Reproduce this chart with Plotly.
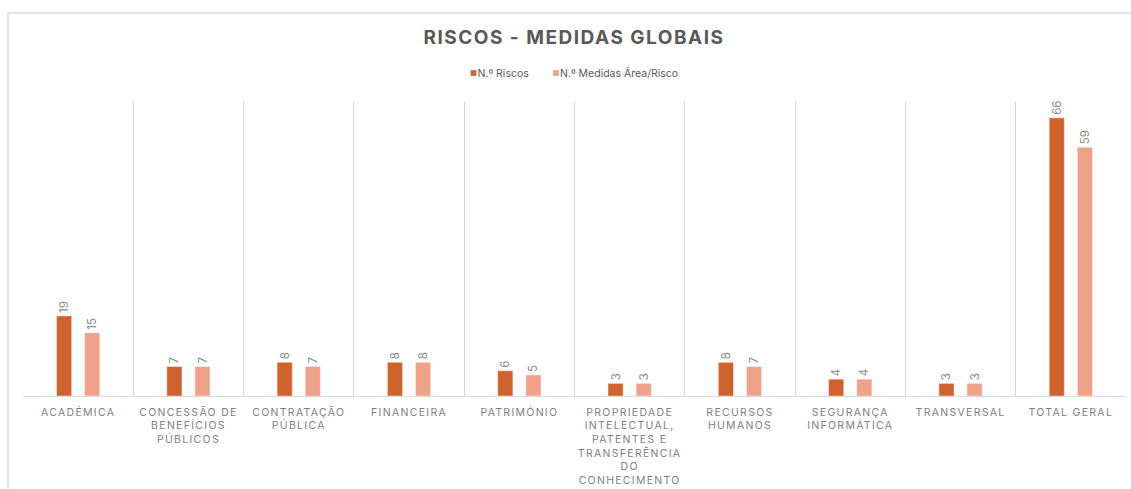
import plotly.graph_objects as go

categories = [
    "ACADÉMICA",
    "CONCESSÃO DE<br>BENEFÍCIOS<br>PÚBLICOS",
    "CONTRATAÇÃO<br>PÚBLICA",
    "FINANCEIRA",
    "PATRIMÓNIO",
    "PROPRIEDADE<br>INTELECTUAL,<br>PATENTES E<br>TRANSFERÊNCIA<br>DO<br>CONHECIMENTO",
    "RECURSOS<br>HUMANOS",
    "SEGURANÇA<br>INFORMÁTICA",
    "TRANSVERSAL",
    "TOTAL GERAL",
]
riscos = [19, 7, 8, 8, 6, 3, 8, 4, 3, 66]
medidas = [15, 7, 7, 8, 5, 3, 7, 4, 3, 59]

DARK = "#CF632D"
LIGHT = "#EFA18A"
GRID = "#D9D9D9"
FONT = "Inter, Roboto, sans-serif"

fig = go.Figure()
fig.add_trace(go.Bar(
    name="N.º Riscos", x=categories, y=riscos,
    marker=dict(color=DARK, line=dict(color="rgba(255,255,255,0.45)", width=1)),
    text=riscos, textposition="outside", textangle=-90,
    textfont=dict(size=11.5, color="#8C8C8C", family=FONT),
    cliponaxis=False,
))
fig.add_trace(go.Bar(
    name="N.º Medidas Área/Risco", x=categories, y=medidas,
    marker=dict(color=LIGHT, line=dict(color="rgba(255,255,255,0.45)", width=1)),
    text=medidas, textposition="outside", textangle=-90,
    textfont=dict(size=11.5, color="#8C8C8C", family=FONT),
    cliponaxis=False,
))

fig.update_layout(
    width=1131, height=489,
    margin=dict(l=23, r=5, t=101, b=93),
    paper_bgcolor="white", plot_bgcolor="white",
    barmode="group", bargap=0.49, bargroupgap=0.46,
    title=dict(
        text="<b>RISCOS - MEDIDAS GLOBAIS</b>",
        x=0.5075, xanchor="center", y=0.924, yanchor="middle",
        font=dict(size=19, color="#595959", family=FONT),
    ),
    legend=dict(
        orientation="h", x=0.5, xanchor="center", y=1.095, yanchor="middle",
        font=dict(size=10.5, color="#595959", family=FONT),
        itemwidth=30, tracegroupgap=0, bgcolor="rgba(0,0,0,0)",
    ),
    showlegend=True,
    font=dict(family=FONT, color="#595959"),
)
fig.update_xaxes(
    type="category", tickson="boundaries", showgrid=True, gridcolor=GRID, gridwidth=1,
    showline=True, linecolor=GRID, linewidth=1, ticks="",
    tickfont=dict(size=10.5, color="#7F7F7F", family=FONT), tickangle=0,
    ticklabelstandoff=6, automargin=False,
)
fig.update_yaxes(range=[0, 70], visible=False, showgrid=False, zeroline=False, automargin=False)

fig.add_shape(
    type="rect", xref="paper", yref="paper",
    x0=-0.0136, x1=1.02, y0=-0.5, y1=1.298,
    line=dict(color=GRID, width=1.5), fillcolor="rgba(0,0,0,0)", layer="below",
)

post = """
var s=document.createElement('style');
s.textContent='body{margin:0} .xtick text{letter-spacing:1.3px} .gtitle{letter-spacing:1.5px}';
document.head.appendChild(s);
var gd=document.getElementById('{plot_id}');
gd.querySelectorAll('.legend .scrollbox').forEach(function(e){e.removeAttribute('clip-path');});
gd.querySelectorAll('.legend .legendpoints path').forEach(function(p){
  p.setAttribute('transform','translate(36,0) scale(0.5)');
});
var targets=[437.5,520];
gd.querySelectorAll('.legend .traces').forEach(function(it,i){
  var m=it.parentNode.getCTM();
  var t=it.getAttribute('transform')||'';
  var mm=/translate\\(([-\\d.e]+)[, ]+([-\\d.e]+)\\)/.exec(t);
  var y=mm?parseFloat(mm[2]):0;
  if(i<targets.length){it.setAttribute('transform','translate('+(targets[i]-m.e)+','+y+')');}
});
"""
fig.write_html("out.html", post_script=post, config={"displayModeBar": False})
